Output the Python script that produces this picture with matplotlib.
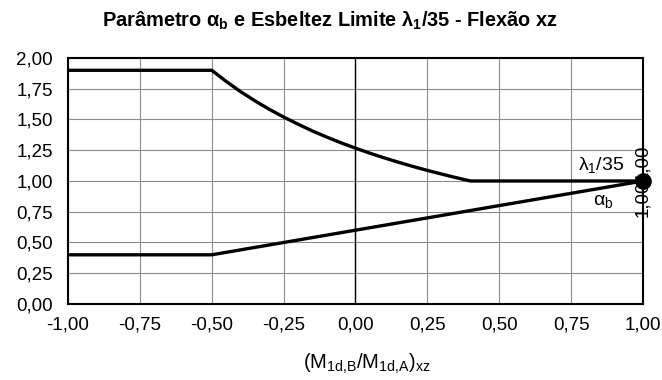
import matplotlib
matplotlib.use('Agg')
import matplotlib.pyplot as plt
from matplotlib.ticker import FuncFormatter, MultipleLocator

plt.rcParams['font.family'] = ['Liberation Sans', 'DejaVu Sans']
plt.rcParams['mathtext.fontset'] = 'custom'
plt.rcParams['mathtext.rm'] = 'Liberation Sans'
plt.rcParams['mathtext.it'] = 'Liberation Sans'
plt.rcParams['mathtext.bf'] = 'Liberation Sans:bold'

# Esbeltez limite lambda1/35
x_lambda = [-1.0, -0.5, -0.45, -0.4, -0.35, -0.3, -0.25, -0.2, -0.15, -0.1, -0.05,
            0.0, 0.05, 0.1, 0.15, 0.2, 0.25, 0.3, 0.35, 0.4, 1.0]
y_lambda = [1.900, 1.900, 1.810, 1.727, 1.652, 1.583, 1.520, 1.462, 1.407, 1.357, 1.310,
            1.267, 1.226, 1.188, 1.152, 1.118, 1.086, 1.056, 1.027, 1.000, 1.000]

# Parametro alpha_b
x_alpha = [-1.0, -0.5, 1.0]
y_alpha = [0.40, 0.40, 1.00]

# ponto final
x_pt = [1.0]
y_pt = [1.0]

fig = plt.figure(figsize=(6.62, 3.80), dpi=100)
ax = fig.add_axes([0.1027, 0.2, 0.8686, 0.6474])

ax.plot(x_lambda, y_lambda, color='black', lw=2.4, zorder=3)
ax.plot(x_alpha, y_alpha, color='black', lw=2.4, zorder=3)
ax.plot(x_pt, y_pt, 'o', color='black', ms=11, zorder=4, clip_on=False)

# linha vertical em x = 0
ax.axvline(0, color='black', lw=1.0, zorder=2)

ax.set_xlim(-1, 1)
ax.set_ylim(0, 2)
ax.xaxis.set_major_locator(MultipleLocator(0.25))
ax.yaxis.set_major_locator(MultipleLocator(0.25))
fmt = FuncFormatter(lambda v, p: f'{v:.2f}'.replace('.', ','))
ax.xaxis.set_major_formatter(fmt)
ax.yaxis.set_major_formatter(fmt)
ax.tick_params(length=0, labelsize=13.5)
ax.tick_params(axis='y', pad=11)
ax.tick_params(axis='x', pad=9)
ax.grid(True, color='#8c8c8c', lw=0.8)
ax.set_axisbelow(True)
for s in ax.spines.values():
    s.set_linewidth(1.5)

fig.text(0.4985, 0.929, r'Parâmetro $\mathbf{α_b}$ e Esbeltez Limite $\mathbf{λ_1}$/35 - Flexão xz',
         fontsize=14.4, fontweight='bold', ha='center', va='baseline')
fig.text(0.554, 0.029, r'(M$_{\mathrm{1d{,}B}}$/M$_{\mathrm{1d{,}A}}$)$_{\mathrm{xz}}$',
         fontsize=14.5, ha='center', va='baseline')

ax.text(0.855, 1.13, r'$λ_1$/35', fontsize=14, ha='center', va='center')
ax.text(0.86, 0.83, r'$α_b$', fontsize=14, ha='center', va='center')

ax.text(1.0, 1.0, '1,00', rotation=90, fontsize=13.5, ha='center', va='bottom', clip_on=False)
ax.text(1.0, 1.0, '1,00', rotation=90, fontsize=13.5, ha='center', va='top', clip_on=False)

fig.savefig('out.png', dpi=100)
